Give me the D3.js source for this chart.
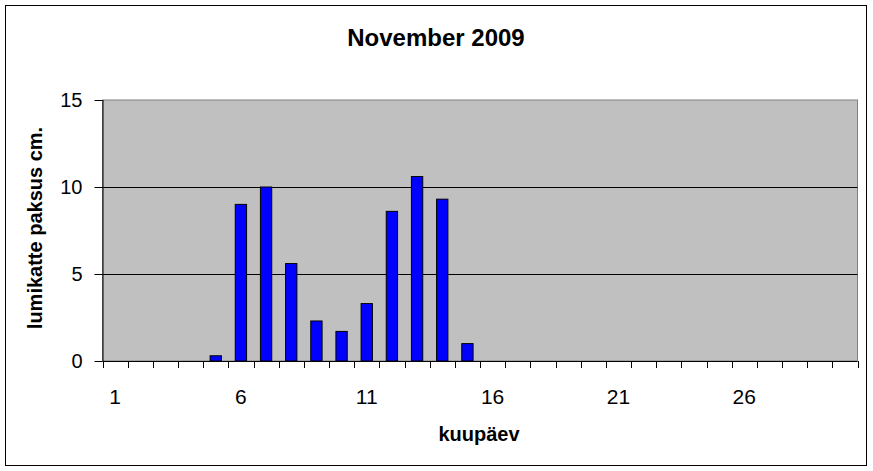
<!DOCTYPE html>
<html>
<head>
<meta charset="utf-8">
<script src="https://cdn.jsdelivr.net/npm/d3@7"></script>
<style>
  body { margin: 0; background: #fff; }
  text { font-family: "Liberation Sans", Arial, sans-serif; fill: #000; }
</style>
</head>
<body>
<div id="chart"></div>
<script>
// snow depth per day, November 2009 (null = no measurement drawn)
const days = d3.range(1, 31);
const depth = [null, null, null, null, 0.3, 9.0, 10.0, 5.6, 2.3, 1.7,
  3.3, 8.6, 10.6, 9.3, 1.0, null, null, null, null, null,
  null, null, null, null, null, null, null, null, null, null];
const yTicks = [0, 5, 10, 15];
const xLabels = [1, 6, 11, 16, 21, 26];

const title = 'November 2009';
const xTitle = 'kuupäev';
const yTitle = 'lumikatte paksus cm.';

const W = 873;
const H = 471;
const plot = { left: 102.5, right: 857.5, top: 100, bottom: 361 };

const data = days.map((d, i) => ({ day: d, value: depth[i] }));

const svg = d3.select('#chart').append('svg')
  .attr('width', W)
  .attr('height', H);

// outer chart frame
svg.append('rect')
  .attr('x', 5.5).attr('y', 5.5)
  .attr('width', 861).attr('height', 460)
  .attr('fill', '#fff')
  .attr('stroke', '#000')
  .attr('stroke-width', 1);

const x = d3.scaleBand()
  .domain(days)
  .range([plot.left, plot.right])
  .paddingInner(0.55)
  .paddingOuter(0.275);

const y = d3.scaleLinear()
  .domain([0, 15])
  .range([plot.bottom, plot.top]);

const step = x.step();
const slotStart = d => x(d) - step * x.paddingInner() / 2;

// plot area
svg.append('rect')
  .attr('x', plot.left).attr('y', plot.top)
  .attr('width', plot.right - plot.left)
  .attr('height', plot.bottom - plot.top)
  .attr('fill', '#c0c0c0')
  .attr('stroke', '#808080')
  .attr('stroke-width', 1);

// gridlines
svg.selectAll('.grid')
  .data(yTicks.filter(t => t > 0 && t < 15))
  .enter().append('line')
  .attr('class', 'grid')
  .attr('x1', plot.left).attr('x2', plot.right)
  .attr('y1', d => Math.round(y(d)) + 0.5)
  .attr('y2', d => Math.round(y(d)) + 0.5)
  .attr('stroke', '#000')
  .attr('stroke-width', 1);

// bars
svg.selectAll('.bar')
  .data(data.filter(d => d.value !== null))
  .enter().append('rect')
  .attr('class', 'bar')
  .attr('x', d => x(d.day))
  .attr('y', d => y(d.value))
  .attr('width', x.bandwidth())
  .attr('height', d => y(0) - y(d.value))
  .attr('fill', '#0000ff')
  .attr('stroke', '#000')
  .attr('stroke-width', 1);

// y axis
const yAxis = d3.axisLeft(y)
  .tickValues(yTicks)
  .tickSize(8)
  .tickPadding(12)
  .tickFormat(d3.format('d'));

const gy = svg.append('g')
  .attr('transform', `translate(${plot.left},0)`)
  .call(yAxis);
gy.select('.domain').attr('stroke', '#000').attr('d', `M0.5,${plot.top}V${plot.bottom}`);
gy.selectAll('.tick line').attr('stroke', '#000');
gy.selectAll('.tick text')
  .attr('font-size', 20)
  .attr('font-family', '"Liberation Sans", Arial, sans-serif');

// x axis: ticks on category boundaries, labels every fifth day
const gx = svg.append('g')
  .attr('transform', `translate(0,${plot.bottom})`);

gx.append('line')
  .attr('x1', plot.left).attr('x2', plot.right)
  .attr('y1', 0.5).attr('y2', 0.5)
  .attr('stroke', '#000');

gx.selectAll('.xtick')
  .data(days.concat([null]))
  .enter().append('line')
  .attr('class', 'xtick')
  .attr('x1', (d, i) => Math.round(i < days.length ? slotStart(d) : plot.right) + 0.5)
  .attr('x2', (d, i) => Math.round(i < days.length ? slotStart(d) : plot.right) + 0.5)
  .attr('y1', 0)
  .attr('y2', 7)
  .attr('stroke', '#000');

gx.selectAll('.xlabel')
  .data(xLabels)
  .enter().append('text')
  .attr('class', 'xlabel')
  .attr('x', d => x(d) + x.bandwidth() / 2)
  .attr('y', 43)
  .attr('text-anchor', 'middle')
  .attr('font-size', 21)
  .text(d => d);

// titles
svg.append('text')
  .attr('x', 436)
  .attr('y', 46)
  .attr('text-anchor', 'middle')
  .attr('font-size', 24)
  .attr('font-weight', 'bold')
  .text(title);

svg.append('text')
  .attr('x', 479)
  .attr('y', 441)
  .attr('text-anchor', 'middle')
  .attr('font-size', 20)
  .attr('font-weight', 'bold')
  .text(xTitle);

svg.append('text')
  .attr('transform', 'translate(42,228) rotate(-90)')
  .attr('text-anchor', 'middle')
  .attr('font-size', 20)
  .attr('font-weight', 'bold')
  .text(yTitle);
</script>
</body>
</html>
